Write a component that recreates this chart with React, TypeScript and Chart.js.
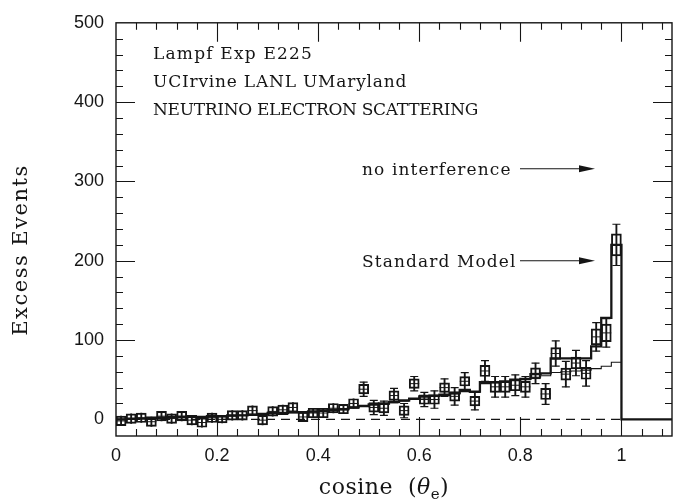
import React, { useEffect, useRef } from "react";
import { Chart, registerables } from "chart.js";

Chart.register(...registerables);

const INK = "#151515";
const SERIF = '"DejaVu Serif", serif';
const SANS = '"Liberation Sans", Arial, sans-serif';

// cos(theta_e) bin centres, 0.02 wide
const binCenters = [
  0.01, 0.03, 0.05, 0.07, 0.09, 0.11, 0.13, 0.15, 0.17, 0.19,
  0.21, 0.23, 0.25, 0.27, 0.29, 0.31, 0.33, 0.35, 0.37, 0.39,
  0.41, 0.43, 0.45, 0.47, 0.49, 0.51, 0.53, 0.55, 0.57, 0.59,
  0.61, 0.63, 0.65, 0.67, 0.69, 0.71, 0.73, 0.75, 0.77, 0.79,
  0.81, 0.83, 0.85, 0.87, 0.89, 0.91, 0.93, 0.95, 0.97, 0.99,
];
const BIN_WIDTH = 0.02;

// measured excess events per bin
const excessEvents = [
  -2, 1, 2, -3, 4, 1, 4, -1, -4, 2,
  0, 5, 5, 11, -1, 10, 12, 15, 3, 8,
  8, 14, 13, 20, 38, 15, 14, 30, 11, 45,
  25, 25, 40, 29, 48, 23, 61, 41, 41, 43,
  41, 58, 32, 83, 57, 71, 58, 104, 109, 220,
];
// half height of the error box
const boxHalf = [
  6, 6, 6, 6, 6, 6, 6, 6, 6, 6,
  4.5, 6, 6, 6, 6, 6, 6, 6, 6, 6,
  6, 6, 6, 6, 6, 6, 6, 6, 6, 6,
  6, 6, 6, 6, 6, 6, 7, 7, 7, 7,
  7, 7, 7, 7.5, 7.5, 7.5, 7.5, 10, 11, 14,
];
// half length of the error whiskers
const errHalf = [
  6, 6, 6, 6, 6, 6, 6, 6, 6, 6,
  4.5, 6, 6, 6, 6, 6, 6, 6, 6, 6,
  6, 6, 6, 6, 9, 9, 9, 9, 9, 9,
  9, 11, 11, 11, 11, 11, 13, 13, 13, 13,
  13, 13, 13, 16, 16, 16, 16, 18, 18, 26,
];
// expected distributions
const standardModel = [
  0, 1, 1, 2, 2, 3, 3, 3, 3, 4,
  4, 5, 5, 6, 7, 8, 8, 9, 9, 10,
  11, 12, 13, 15, 17, 19, 20, 22, 24, 26,
  29, 30, 31, 33, 37, 35, 47, 47, 48, 50,
  51, 57, 58, 77, 77, 77, 77, 92, 128, 220,
];
const noInterference = [
  0, 0, 1, 1, 2, 2, 2, 3, 3, 3,
  4, 4, 5, 5, 6, 7, 7, 8, 8, 9,
  10, 11, 12, 14, 16, 18, 19, 21, 23, 25,
  27, 29, 30, 32, 35, 34, 45, 46, 47, 49,
  50, 53, 55, 59, 60, 61, 62, 64, 67, 72,
];

const xTickValues = [0, 0.2, 0.4, 0.6, 0.8, 1];
const xTickLabels = ["0", "0.2", "0.4", "0.6", "0.8", "1"];
const yTickValues = [0, 100, 200, 300, 400, 500];
const xRange = [0, 1.1];
const yRange = [-21, 500];
const X_MINOR = 0.04;
const Y_MINOR = 20;

const headerLines = [
  { text: "Lampf Exp E225", spacing: 1.2 },
  { text: "UCIrvine LANL UMaryland", spacing: 0.8 },
  { text: "NEUTRINO ELECTRON SCATTERING", spacing: -0.3 },
];
const arrowNotes = [
  { text: "no interference", dy: 146 },
  { text: "Standard Model", dy: 238 },
];

function stepPoints(values: number[]) {
  const pts = values.map((v, i) => ({ x: binCenters[i] - BIN_WIDTH / 2, y: v }));
  const last = values.length - 1;
  pts.push({ x: binCenters[last] + BIN_WIDTH / 2, y: values[last] });
  return pts;
}

const histEnd = binCenters[binCenters.length - 1] + BIN_WIDTH / 2;

const framePlugin = {
  id: "frameTicks",
  afterDraw(chart: any) {
    const { ctx, chartArea: a, scales } = chart;
    const xs = scales.x;
    const ys = scales.y;
    ctx.save();
    ctx.strokeStyle = INK;
    ctx.lineWidth = 1.4;
    ctx.strokeRect(a.left, a.top, a.right - a.left, a.bottom - a.top);
    ctx.lineWidth = 1.1;
    ctx.beginPath();
    const nx = Math.round((xRange[1] - xRange[0]) / X_MINOR);
    for (let k = 1; k <= nx; k++) {
      const v = xRange[0] + k * X_MINOR;
      if (v >= xRange[1] - 1e-9) break;
      const major = Math.abs(v / 0.2 - Math.round(v / 0.2)) < 1e-6;
      const len = major ? 19 : 7;
      const px = Math.round(xs.getPixelForValue(v)) + 0.5;
      ctx.moveTo(px, a.bottom);
      ctx.lineTo(px, a.bottom - len);
      ctx.moveTo(px, a.top);
      ctx.lineTo(px, a.top + len);
    }
    for (let v = 0; v < yRange[1]; v += Y_MINOR) {
      const major = v % 100 === 0;
      const len = major ? 19 : 7;
      const py = Math.round(ys.getPixelForValue(v)) + 0.5;
      ctx.moveTo(a.left, py);
      ctx.lineTo(a.left + len, py);
      ctx.moveTo(a.right, py);
      ctx.lineTo(a.right - len, py);
    }
    ctx.stroke();
    ctx.restore();
  },
};

function arrow(ctx: CanvasRenderingContext2D, x0: number, x1: number, y: number) {
  ctx.beginPath();
  ctx.moveTo(x0, y);
  ctx.lineTo(x1 - 12, y);
  ctx.lineWidth = 1.1;
  ctx.stroke();
  ctx.beginPath();
  ctx.moveTo(x1, y);
  ctx.lineTo(x1 - 16, y - 3.5);
  ctx.lineTo(x1 - 16, y + 3.5);
  ctx.closePath();
  ctx.fill();
}

const textPlugin = {
  id: "chartText",
  afterDraw(chart: any) {
    const { ctx, chartArea: a } = chart;
    ctx.save();
    ctx.fillStyle = INK;
    ctx.strokeStyle = INK;
    ctx.textAlign = "left";
    ctx.textBaseline = "alphabetic";
    ctx.font = `17px ${SERIF}`;
    headerLines.forEach((l, i) => {
      ctx.letterSpacing = `${l.spacing}px`;
      ctx.fillText(l.text, a.left + 37, a.top + 36 + i * 28);
    });
    ctx.letterSpacing = "1.1px";
    arrowNotes.forEach((n) => {
      ctx.fillText(n.text, a.left + 246, a.top + n.dy + 6);
      arrow(ctx, a.left + 404, a.left + 479, a.top + n.dy);
    });

    // y axis title
    ctx.save();
    ctx.translate(22, 250);
    ctx.rotate(-Math.PI / 2);
    ctx.textAlign = "center";
    ctx.textBaseline = "middle";
    ctx.font = `21px ${SERIF}`;
    ctx.letterSpacing = "1.5px";
    ctx.fillText("Excess Events", 0, 0);
    ctx.restore();

    // x axis title: cosine (θe)
    ctx.letterSpacing = "0.5px";
    const big = `22px ${SERIF}`;
    const ital = `italic 22px ${SERIF}`;
    const sub = `15px ${SERIF}`;
    const parts = [
      { t: "cosine  (", f: big, dy: 0 },
      { t: "θ", f: ital, dy: 0 },
      { t: "e", f: sub, dy: 5 },
      { t: ")", f: big, dy: 0 },
    ];
    let total = 0;
    parts.forEach((p) => {
      ctx.font = p.f;
      total += ctx.measureText(p.t).width;
    });
    let x = (a.left + a.right) / 2 - 10 - total / 2;
    const base = 494;
    parts.forEach((p) => {
      ctx.font = p.f;
      ctx.fillText(p.t, x, base + p.dy);
      x += ctx.measureText(p.t).width;
    });
    ctx.restore();
  },
};

export default function App() {
  const canvasRef = useRef<HTMLCanvasElement | null>(null);

  useEffect(() => {
    if (!canvasRef.current) return;

    const boxes = binCenters.map((c, i) => ({
      x: c,
      y: [excessEvents[i] - boxHalf[i], excessEvents[i] + boxHalf[i]],
    }));
    const whiskers = binCenters.map((c, i) => ({
      x: c,
      y: [excessEvents[i] - errHalf[i], excessEvents[i] + errHalf[i]],
    }));
    const caps = binCenters.flatMap((c, i) =>
      errHalf[i] > boxHalf[i]
        ? [
            { x: c, y: excessEvents[i] - errHalf[i] },
            { x: c, y: excessEvents[i] + errHalf[i] },
          ]
        : []
    );
    const centres = binCenters.map((c, i) => ({ x: c, y: excessEvents[i] }));

    const smLine = stepPoints(standardModel).concat([
      { x: histEnd, y: 0 },
      { x: xRange[1], y: 0 },
    ]);
    const niLine = stepPoints(noInterference);
    const zeroLine = [
      { x: binCenters[0] - BIN_WIDTH / 2, y: 0 },
      { x: histEnd, y: 0 },
    ];

    const chart = new Chart(canvasRef.current, {
      type: "line",
      data: {
        datasets: [
          {
            type: "bar",
            label: "Excess events",
            data: boxes as any,
            barThickness: 10,
            grouped: false,
            borderWidth: 1.3,
            borderSkipped: false,
            borderColor: INK,
            backgroundColor: "rgba(0,0,0,0)",
          },
          {
            type: "bar",
            label: "errors",
            data: whiskers as any,
            barThickness: 1.2,
            grouped: false,
            borderWidth: 0,
            backgroundColor: INK,
          },
          {
            type: "scatter",
            label: "caps",
            data: caps,
            showLine: false,
            pointStyle: "line",
            pointRadius: 4,
            borderWidth: 1.2,
            borderColor: INK,
          },
          {
            type: "scatter",
            label: "centres",
            data: centres,
            showLine: false,
            pointStyle: "line",
            pointRadius: 5,
            borderWidth: 1,
            borderColor: INK,
          },
          {
            type: "line",
            label: "Standard Model",
            data: smLine,
            stepped: "before",
            borderColor: INK,
            borderWidth: 2.3,
            pointRadius: 0,
            fill: false,
          },
          {
            type: "line",
            label: "no interference",
            data: niLine,
            stepped: "before",
            borderColor: INK,
            borderWidth: 1.1,
            pointRadius: 0,
            fill: false,
          },
          {
            type: "line",
            label: "zero",
            data: zeroLine,
            borderColor: INK,
            borderWidth: 1.2,
            borderDash: [9, 6],
            pointRadius: 0,
            fill: false,
          },
        ],
      },
      options: {
        animation: false,
        responsive: false,
        devicePixelRatio: 1,
        events: [],
        layout: { padding: { top: 16, right: 14, left: 0, bottom: 0 } },
        plugins: { legend: { display: false }, tooltip: { enabled: false } },
        scales: {
          x: {
            type: "linear",
            min: xRange[0],
            max: xRange[1],
            offset: false,
            grid: { display: false, drawTicks: false },
            border: { display: false },
            afterBuildTicks: (s: any) => {
              s.ticks = xTickValues.map((value) => ({ value }));
            },
            afterFit: (s: any) => {
              s.height = 65;
            },
            ticks: {
              autoSkip: false,
              maxRotation: 0,
              padding: 9,
              color: INK,
              font: { family: SANS, size: 18 },
              callback: (_v: any, i: number) => xTickLabels[i],
            },
          },
          y: {
            type: "linear",
            min: yRange[0],
            max: yRange[1],
            beginAtZero: false,
            grid: { display: false, drawTicks: false },
            border: { display: false },
            afterBuildTicks: (s: any) => {
              s.ticks = yTickValues.map((value) => ({ value }));
            },
            afterFit: (s: any) => {
              s.width = 116;
            },
            ticks: {
              padding: 12,
              color: INK,
              font: { family: SANS, size: 18 },
              callback: (v: any) => String(v),
            },
          },
        },
      },
      plugins: [framePlugin, textPlugin],
    });

    return () => chart.destroy();
  }, []);

  return (
    <div
      style={{
        position: "absolute",
        left: 0,
        top: 0,
        width: 686,
        height: 501,
        background: "#fff",
      }}
    >
      <canvas ref={canvasRef} width={686} height={501} style={{ display: "block" }} />
    </div>
  );
}
